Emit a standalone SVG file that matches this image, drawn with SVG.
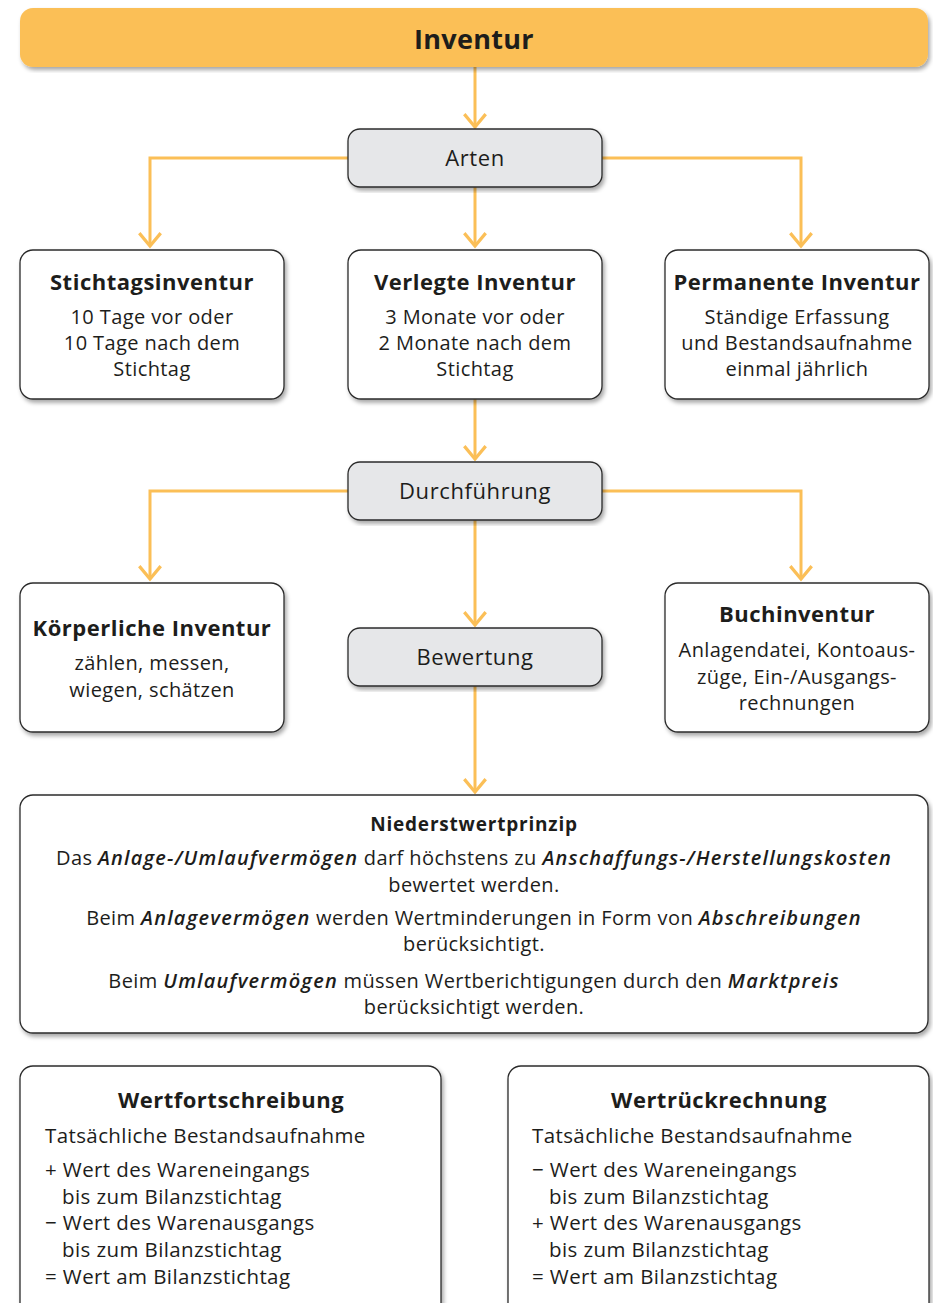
<svg xmlns="http://www.w3.org/2000/svg" width="933" height="1303" viewBox="0 0 933 1303">
<style>
text{font-family:"Open Sans","Noto Sans",sans-serif;fill:#1d1d1b;}
.box{fill:#fff;stroke:#2b2b2b;stroke-width:1.3;filter:url(#sh);}
.gray{fill:#e6e7e9;stroke:#2b2b2b;stroke-width:1.3;filter:url(#sh);}
.t{font-size:22px;font-weight:700;text-anchor:middle;letter-spacing:0.5px;}
.l{font-size:20px;text-anchor:middle;letter-spacing:0.4px;}
.g{font-size:22px;text-anchor:middle;letter-spacing:0.6px;}
.ll{font-size:20.5px;letter-spacing:0.4px;}
.c{fill:none;stroke:#fbbf57;stroke-width:3;}
.e{font-style:italic;font-weight:600;letter-spacing:1.2px;}
</style>
<defs>
<filter id="sh" x="-5%" y="-5%" width="110%" height="115%">
<feDropShadow dx="2" dy="3" stdDeviation="2" flood-color="#000" flood-opacity="0.35"/>
</filter>
<marker id="ah" markerUnits="userSpaceOnUse" orient="auto" refX="0" refY="0" markerWidth="30" markerHeight="30" viewBox="-14 -14 28 28" overflow="visible">
<path d="M-12,-10 L0,0 L-12,10" fill="none" stroke="#fbbf57" stroke-width="3"/>
</marker>
</defs>

<g id="connectors">
<path class="c" d="M475,67 V127" marker-end="url(#ah)"/>
<path class="c" d="M348,158 H150 V246" marker-end="url(#ah)"/>
<path class="c" d="M602,158 H801 V246" marker-end="url(#ah)"/>
<path class="c" d="M475,187 V246" marker-end="url(#ah)"/>
<path class="c" d="M475,399 V459" marker-end="url(#ah)"/>
<path class="c" d="M348,491 H150 V579" marker-end="url(#ah)"/>
<path class="c" d="M602,491 H801 V579" marker-end="url(#ah)"/>
<path class="c" d="M475,520 V625" marker-end="url(#ah)"/>
<path class="c" d="M475,686 V792" marker-end="url(#ah)"/>
</g>

<g id="inventur">
<rect x="20" y="8" width="908" height="59" rx="13" fill="#fbbf57" filter="url(#sh)"/>
<text x="474" y="49" font-size="27" font-weight="700" text-anchor="middle" letter-spacing="0.3">Inventur</text>
</g>

<g id="arten">
<rect class="gray" x="348" y="129" width="254" height="58" rx="12"/>
<text class="g" x="475" y="166">Arten</text>
</g>

<g id="stichtagsinventur">
<rect class="box" x="20" y="250" width="264" height="149" rx="13"/>
<text class="t" x="152" y="290">Stichtagsinventur</text>
<text class="l" x="152" y="323.5">10 Tage vor oder</text>
<text class="l" x="152" y="350">10 Tage nach dem</text>
<text class="l" x="152" y="376">Stichtag</text>
</g>

<g id="verlegte">
<rect class="box" x="348" y="250" width="254" height="149" rx="13"/>
<text class="t" x="475" y="290">Verlegte Inventur</text>
<text class="l" x="475" y="323.5">3 Monate vor oder</text>
<text class="l" x="475" y="350">2 Monate nach dem</text>
<text class="l" x="475" y="376">Stichtag</text>
</g>

<g id="permanente">
<rect class="box" x="665" y="250" width="264" height="149" rx="13"/>
<text class="t" x="797" y="290">Permanente Inventur</text>
<text class="l" x="797" y="323.5">Ständige Erfassung</text>
<text class="l" x="797" y="350">und Bestandsaufnahme</text>
<text class="l" x="797" y="376">einmal jährlich</text>
</g>

<g id="durchfuehrung">
<rect class="gray" x="348" y="462" width="254" height="58" rx="12"/>
<text class="g" x="475" y="499">Durchführung</text>
</g>

<g id="koerperliche">
<rect class="box" x="20" y="583" width="264" height="149" rx="13"/>
<text class="t" x="152" y="636">Körperliche Inventur</text>
<text class="l" x="152" y="670">zählen, messen,</text>
<text class="l" x="152" y="697">wiegen, schätzen</text>
</g>

<g id="bewertung">
<rect class="gray" x="348" y="628" width="254" height="58" rx="12"/>
<text class="g" x="475" y="665">Bewertung</text>
</g>

<g id="buchinventur">
<rect class="box" x="665" y="583" width="264" height="149" rx="13"/>
<text class="t" x="797" y="622">Buchinventur</text>
<text class="l" x="797" y="657">Anlagendatei, Kontoaus-</text>
<text class="l" x="797" y="684">züge, Ein-/Ausgangs-</text>
<text class="l" x="797" y="710">rechnungen</text>
</g>

<g id="niederstwertprinzip">
<rect class="box" x="20" y="795" width="908" height="238" rx="13"/>
<text x="474" y="831" font-size="19" font-weight="700" text-anchor="middle" letter-spacing="0.8">Niederstwertprinzip</text>
<text class="l" x="474" y="865">Das <tspan class="e">Anlage-/Umlaufvermögen</tspan> darf höchstens zu <tspan class="e">Anschaffungs-/Herstellungskosten</tspan></text>
<text class="l" x="474" y="892">bewertet werden.</text>
<text class="l" x="474" y="925">Beim <tspan class="e">Anlagevermögen</tspan> werden Wertminderungen in Form von <tspan class="e">Abschreibungen</tspan></text>
<text class="l" x="474" y="951">berücksichtigt.</text>
<text class="l" x="474" y="988">Beim <tspan class="e">Umlaufvermögen</tspan> müssen Wertberichtigungen durch den <tspan class="e">Marktpreis</tspan></text>
<text class="l" x="474" y="1014">berücksichtigt werden.</text>
</g>

<g id="wertfortschreibung">
<rect class="box" x="20" y="1066" width="421" height="260" rx="13"/>
<text class="t" x="231" y="1108">Wertfortschreibung</text>
<text class="ll" x="45" y="1143">Tatsächliche Bestandsaufnahme</text>
<text class="ll" x="45" y="1177">+ Wert des Wareneingangs</text>
<text class="ll" x="62" y="1204">bis zum Bilanzstichtag</text>
<text class="ll" x="45" y="1230">− Wert des Warenausgangs</text>
<text class="ll" x="62" y="1257">bis zum Bilanzstichtag</text>
<text class="ll" x="45" y="1284">= Wert am Bilanzstichtag</text>
</g>

<g id="wertrueckrechnung">
<rect class="box" x="508" y="1066" width="421" height="260" rx="13"/>
<text class="t" x="719" y="1108">Wertrückrechnung</text>
<text class="ll" x="532" y="1143">Tatsächliche Bestandsaufnahme</text>
<text class="ll" x="532" y="1177">− Wert des Wareneingangs</text>
<text class="ll" x="549" y="1204">bis zum Bilanzstichtag</text>
<text class="ll" x="532" y="1230">+ Wert des Warenausgangs</text>
<text class="ll" x="549" y="1257">bis zum Bilanzstichtag</text>
<text class="ll" x="532" y="1284">= Wert am Bilanzstichtag</text>
</g>
</svg>
